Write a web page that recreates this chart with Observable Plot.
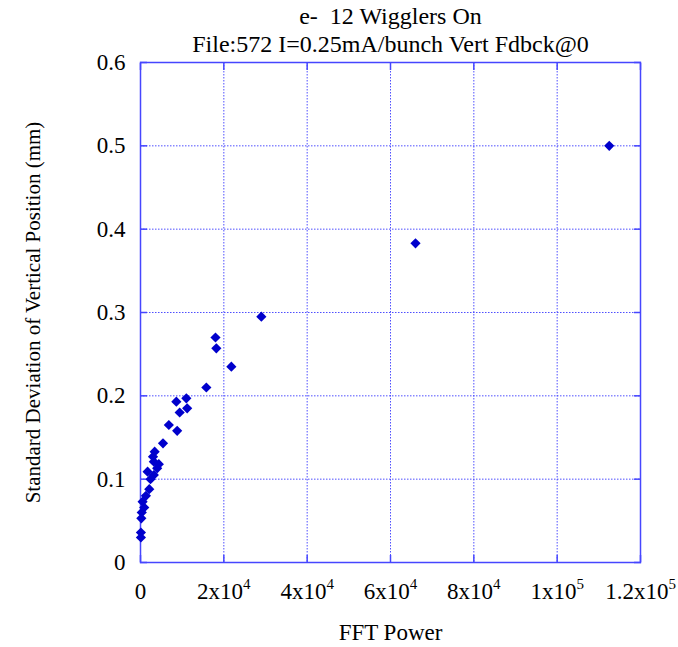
<!DOCTYPE html>
<html>
<head>
<meta charset="utf-8">
<script src="https://cdn.jsdelivr.net/npm/d3@7"></script>
<script src="https://cdn.jsdelivr.net/npm/@observablehq/plot@0.6"></script>
<style>
  html, body { margin: 0; padding: 0; background: #fff; }
</style>
</head>
<body>
<div id="chart"></div>
<script>
const fftPower = [112500, 66000, 29000, 18000, 18200, 21800, 15800, 11000, 8600, 11200, 9400, 6800, 8800, 5400, 3400, 3000, 4400, 4000, 3200, 1700, 3200, 2400, 2100, 1300, 500, 900, 300, 100, 100, 200];
const stdDev  = [0.500, 0.383, 0.295, 0.270, 0.257, 0.235, 0.210, 0.197, 0.193, 0.185, 0.180, 0.165, 0.158, 0.143, 0.133, 0.127, 0.118, 0.113, 0.121, 0.109, 0.105, 0.100, 0.088, 0.080, 0.073, 0.066, 0.060, 0.036, 0.030, 0.053];

const xTicks = [0, 20000, 40000, 60000, 80000, 100000, 120000];
const xTickLabels = ["0", "2x10^4", "4x10^4", "6x10^4", "8x10^4", "1x10^5", "1.2x10^5"];
const yTicks = [0, 0.1, 0.2, 0.3, 0.4, 0.5, 0.6];
const yTickLabels = ["0", "0.1", "0.2", "0.3", "0.4", "0.5", "0.6"];

const titleLines = ["e-  12 Wigglers On", "File:572 I=0.25mA/bunch Vert Fdbck@0"];
const xLabel = "FFT Power";
const yLabel = "Standard Deviation of Vertical Position (mm)";

const data = fftPower.map((x, i) => ({x, y: stdDev[i]}));

const axisColor = "#4646ff";
const gridColor = "#3c3cff";
const dotColor = "#0000cc";
const font = "'Liberation Serif', 'Times New Roman', serif";

const chart = Plot.plot({
  width: 678,
  height: 647,
  marginTop: 62,
  marginBottom: 85,
  marginLeft: 140,
  marginRight: 38,
  style: {fontFamily: font, fontSize: "22px", color: "#000", background: "#fff"},
  x: {domain: [0, 120000]},
  y: {domain: [0, 0.6]},
  marks: [
    Plot.gridX(xTicks, {stroke: gridColor, strokeOpacity: 0.9, strokeWidth: 1, strokeDasharray: "1.5,1.5"}),
    Plot.gridY(yTicks, {stroke: gridColor, strokeOpacity: 0.9, strokeWidth: 1, strokeDasharray: "1.5,1.5"}),
    Plot.axisX(xTicks, {anchor: "bottom", tickSize: -7, tickFormat: () => "", stroke: axisColor, strokeWidth: 1.5, label: null}),
    Plot.axisX(xTicks, {anchor: "top", tickSize: -7, tickFormat: () => "", stroke: axisColor, strokeWidth: 1.5, label: null}),
    Plot.axisY(yTicks, {anchor: "left", tickSize: -7, tickFormat: () => "", stroke: axisColor, strokeWidth: 1.5, label: null}),
    Plot.axisY(yTicks, {anchor: "right", tickSize: -7, tickFormat: () => "", stroke: axisColor, strokeWidth: 1.5, label: null}),
    Plot.axisX(xTicks, {anchor: "bottom", tickSize: 0, tickPadding: 20, fontSize: 23,
      tickFormat: d => xTickLabels[xTicks.indexOf(d)], label: null}),
    Plot.axisY(yTicks, {anchor: "left", tickSize: 0, tickPadding: 15, fontSize: 23,
      tickFormat: d => yTickLabels[yTicks.indexOf(d)], label: null}),
    Plot.frame({stroke: axisColor, strokeWidth: 1.5}),
    Plot.dot(data, {x: "x", y: "y", symbol: "diamond2", r: 4.6, fill: dotColor, stroke: "none"}),
    Plot.text([titleLines[0]], {frameAnchor: "top", dy: -46, lineAnchor: "middle", fontSize: 24}),
    Plot.text([titleLines[1]], {frameAnchor: "top", dy: -18, lineAnchor: "middle", fontSize: 24}),
    Plot.text([xLabel], {frameAnchor: "bottom", dy: 70, lineAnchor: "middle", fontSize: 23}),
    Plot.text([yLabel], {frameAnchor: "left", dx: -107, rotate: -90, textAnchor: "middle", lineAnchor: "middle", fontSize: 21})
  ]
});

// Render exponents in x tick labels as superscripts
d3.select(chart).selectAll("text").each(function() {
  const t = this.textContent;
  if (t.includes("^")) {
    const [base, exp] = t.split("^");
    const sel = d3.select(this);
    sel.text(null);
    sel.append("tspan").text(base);
    sel.append("tspan").attr("dy", "-10").attr("font-size", 15).text(exp);
  }
});

document.getElementById("chart").appendChild(chart);
</script>
</body>
</html>
